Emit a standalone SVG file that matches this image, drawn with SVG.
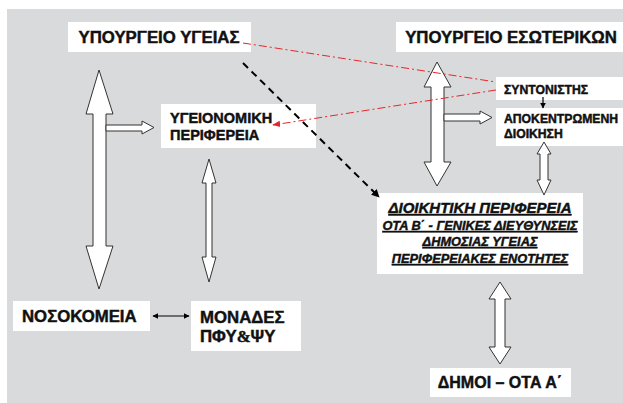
<svg xmlns="http://www.w3.org/2000/svg" width="623" height="403" viewBox="0 0 623 403">
<style>
.box{fill:#fff;stroke:none}
.t{font-family:"Liberation Sans",Arial,sans-serif;font-weight:bold;fill:#111;stroke:#111;stroke-width:0.45}
.bl{fill:#fff;stroke:#333;stroke-width:1}
.u{font-style:italic;text-decoration:underline}
</style>
<defs>
<marker id="ah" viewBox="0 0 10 10" refX="9" refY="5" markerWidth="5" markerHeight="5" orient="auto-start-reverse"><path d="M0,0 L10,5 L0,10 z" fill="#000"/></marker>
<marker id="ahd" viewBox="0 0 10 10" refX="9" refY="5" markerWidth="4" markerHeight="4" orient="auto"><path d="M0,0 L10,5 L0,10 z" fill="#000"/></marker>
<marker id="ahr" viewBox="0 0 10 10" refX="9" refY="5" markerWidth="8" markerHeight="8" orient="auto"><path d="M0,1 L10,5 L0,9 z" fill="#e8262a"/></marker>
</defs>
<rect x="7" y="9" width="616" height="394" fill="#d9dadc"/>
<g id="ypourgeio-ygeias"><rect class="box" x="68" y="22" width="183" height="30"/><text class="t" x="159" y="43" font-size="16.8" text-anchor="middle">ΥΠΟΥΡΓΕΙΟ ΥΓΕΙΑΣ</text></g>
<g id="ypourgeio-eswterikwn"><rect class="box" x="396" y="22" width="227" height="30"/><text class="t" x="511" y="43" font-size="16.8" text-anchor="middle">ΥΠΟΥΡΓΕΙΟ ΕΣΩΤΕΡΙΚΩΝ</text></g>
<g id="ygeionomiki"><rect class="box" x="161" y="104" width="155" height="44"/><text class="t" x="170" y="123" font-size="14.5">ΥΓΕΙΟΝΟΜΙΚΗ</text><text class="t" x="170" y="140" font-size="14.5">ΠΕΡΙΦΕΡΕΙΑ</text></g>
<g id="syntonistis"><rect class="box" x="496" y="77" width="127" height="23"/><text class="t" x="504" y="94" font-size="12.2">ΣΥΝΤΟΝΙΣΤΗΣ</text></g>
<g id="apokentromeni"><rect class="box" x="496" y="108" width="127" height="38"/><text class="t" x="504" y="123" font-size="12.2">ΑΠΟΚΕΝΤΡΩΜΕΝΗ</text><text class="t" x="504" y="138" font-size="12.2">ΔΙΟΙΚΗΣΗ</text></g>
<g id="dioikitiki"><rect class="box" x="377" y="193" width="206" height="81"/>
<text class="t u" x="480" y="213" font-size="15" text-anchor="middle">ΔΙΟΙΚΗΤΙΚΗ ΠΕΡΙΦΕΡΕΙΑ</text>
<text class="t u" x="480" y="230" font-size="12.8" text-anchor="middle">ΟΤΑ Β΄ - ΓΕΝΙΚΕΣ ΔΙΕΥΘΥΝΣΕΙΣ</text>
<text class="t u" x="480" y="246" font-size="12.8" text-anchor="middle">ΔΗΜΟΣΙΑΣ ΥΓΕΙΑΣ</text>
<text class="t u" x="480" y="263" font-size="12.8" text-anchor="middle">ΠΕΡΙΦΕΡΕΙΑΚΕΣ ΕΝΟΤΗΤΕΣ</text></g>
<g id="nosokomeia"><rect class="box" x="13" y="301" width="137" height="30"/><text class="t" x="22" y="322" font-size="16.8">ΝΟΣΟΚΟΜΕΙΑ</text></g>
<g id="monades"><rect class="box" x="191" y="301" width="110" height="50"/><text class="t" x="200" y="323" font-size="16.8">ΜΟΝΑΔΕΣ</text><text class="t" x="200" y="342" font-size="16.8">ΠΦΥ<tspan font-family="'Liberation Serif',serif">&amp;</tspan>ΨΥ</text></g>
<g id="dimoi"><rect class="box" x="430" y="368" width="141" height="29"/><text class="t" x="500" y="388" font-size="16" text-anchor="middle">ΔΗΜΟΙ – ΟΤΑ Α΄</text></g>
<g id="connectors">
<polygon class="bl" points="99,70 113,114 106,114 106,246 113,246 99,289 86,246 93,246 93,114 86,114"/>
<polygon class="bl" points="106,125 142,125 142,121 154,127.5 142,134 142,131 106,131"/>
<polygon class="bl" points="209,159 216,183 212,183 212,257 216,257 209,282 202,257 206,257 206,183 202,183"/>
<polygon class="bl" points="437,62 451,87 444,87 444,162 451,162 437,186 424,162 431,162 431,87 424,87"/>
<polygon class="bl" points="444,114 480,114 480,111 492,117.5 480,124 480,121 444,121"/>
<polygon class="bl" points="544,142 551,154 548,154 548,180 551,180 544,195 537,180 540,180 540,154 537,154"/>
<polygon class="bl" points="500,282 511,299 505,299 505,347 511,347 500,364 489,347 495,347 495,299 489,299"/>
<line x1="153" y1="316" x2="189" y2="316" stroke="#000" stroke-width="1.2" marker-start="url(#ah)" marker-end="url(#ah)"/>
<line x1="543" y1="97" x2="543" y2="108" stroke="#000" stroke-width="1.2" marker-end="url(#ah)"/>
<line x1="243" y1="63" x2="379" y2="197" stroke="#000" stroke-width="2" stroke-dasharray="7,5" marker-end="url(#ahd)"/>
<line x1="243" y1="43" x2="496" y2="82" stroke="#e8262a" stroke-width="1" stroke-dasharray="8,3,2,3"/>
<line x1="496" y1="90" x2="273" y2="125" stroke="#e8262a" stroke-width="1" stroke-dasharray="8,3,2,3" marker-end="url(#ahr)"/>
</g>
</svg>
